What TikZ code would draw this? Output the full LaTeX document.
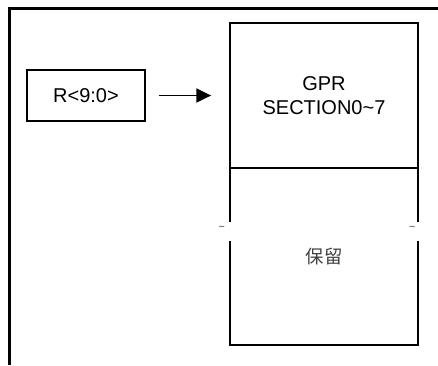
\documentclass[tikz,border=0pt]{standalone}
\usepackage{fontspec}
\setmainfont{Liberation Sans}
\newfontfamily\cjkfont{Noto Sans CJK SC}
\usepackage{tikz}
\usetikzlibrary{arrows.meta,positioning,calc}
\definecolor{gprblack}{HTML}{000000}
\definecolor{gprgray}{HTML}{404040}
\tikzset{
  gp/frame/.style={draw=gprblack, line width=2.2pt},
  gp/box/.style={
    draw=gprblack, line width=1.4pt, fill=white,
    align=center, inner sep=2pt, font=\fontsize{15}{17.5}\selectfont
  },
  gp/open/.style={
    align=center, inner sep=0pt, font=\cjkfont\fontsize{13.8}{16}\selectfont, text=gprgray
  },
  gp/edge/.style={gprblack, line width=1.4pt},
  gp/tilde/.style={font=\fontsize{8}{8}\selectfont, text=gprgray, inner sep=0pt},
  gp/arr/.style={-{Triangle[length=11pt, width=10.5pt]}, gprblack, line width=1.1pt}
}
\begin{document}
\begin{tikzpicture}[x=0.75pt, y=-0.75pt]
  \useasboundingbox (0,0) rectangle (438,365);

  % --- Rahmen ---
  \coordinate (topright) at (438,8.5);
  \coordinate (corner) at (9.5,8.5);
  \coordinate (botleft) at (9.5,365);
  \draw[gp/frame] (topright) -- (corner) -- (botleft);

  % --- Register ---
  \node[gp/box, minimum width=118*0.75pt, minimum height=51*0.75pt] (reg) at (86,95.5) {R<9:0>};

  % --- Speicherbereiche ---
  \node[gp/box, minimum width=188*0.75pt, minimum height=145*0.75pt] (gpr) at (324,95.5)
    {GPR\\SECTION0\textasciitilde7};
  \node[minimum width=188*0.75pt, minimum height=177*0.75pt, inner sep=0pt] (rsv) at (324,256.5) {};
  \node[gp/open] (rsvtext) at (rsv.center) {保留};

  % Rand mit Unterbrechung
  \draw[gp/edge] (rsv.north west) -- ($(rsv.north west)+(0,54)$);
  \draw[gp/edge] ($(rsv.north west)+(0,73)$) -- (rsv.south west) -- (rsv.south east)
    -- ($(rsv.north east)+(0,73)$);
  \draw[gp/edge] ($(rsv.north east)+(0,54)$) -- (rsv.north east);
  \node[gp/tilde] (tl) at ($(rsv.north west)+(-8,61)$) {\textasciitilde};
  \node[gp/tilde] (tr) at ($(rsv.north east)+(-6,61)$) {\textasciitilde};

  \draw[gp/arr] ([xshift=13*0.75pt]reg.east) -- ([xshift=-18*0.75pt]gpr.west);
\end{tikzpicture}
\end{document}
